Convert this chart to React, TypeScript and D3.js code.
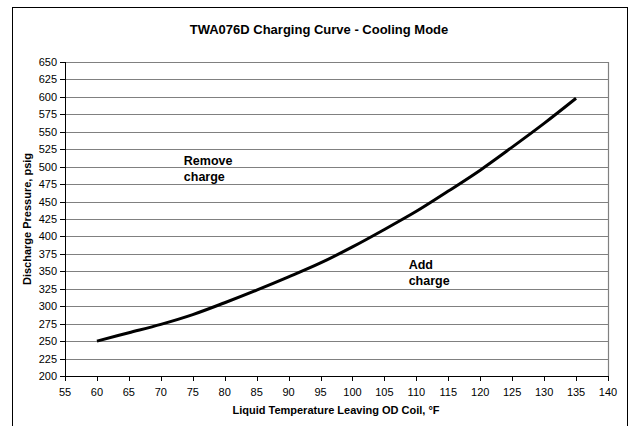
import React from "react";
import * as d3 from "d3";

const temps = [60, 65, 70, 75, 80, 85, 90, 95, 100, 105, 110, 115, 120, 125, 130, 135];
const pressures = [250, 262, 274, 288, 305, 323, 342, 362, 385, 410, 436, 465, 495, 528, 562, 598];
const xTicks = d3.range(55, 141, 5);
const yTicks = d3.range(200, 651, 25);
const title = "TWA076D Charging Curve - Cooling Mode";
const xLabel = "Liquid Temperature Leaving OD Coil, °F";
const yLabel = "Discharge Pressure, psig";
const notes = [
  { x: 73.6, y: 502, lines: ["Remove", "charge"] },
  { x: 108.8, y: 353, lines: ["Add", "charge"] },
];

export default function App() {
  const W = 633, H = 426;
  const L = 65, R = 608, T = 62, B = 376;
  const x = d3.scaleLinear().domain([55, 140]).range([L, R]);
  const y = d3.scaleLinear().domain([200, 650]).range([B, T]);
  const line = d3
    .line<number>()
    .x((_, i) => x(temps[i]))
    .y((d) => y(d))
    .curve(d3.curveMonotoneX);
  const font = "Arial, 'Liberation Sans', sans-serif";
  return (
    <svg
      width={W}
      height={H}
      style={{ position: "absolute", left: 0, top: 0, background: "#fff" }}
      fontFamily={font}
    >
      <rect x={12.5} y={7.5} width={615} height={430} fill="#fff" stroke="#000" strokeWidth={1} />
      <text x={319} y={34} textAnchor="middle" fontSize={13} fontWeight="bold">
        {title}
      </text>
      {yTicks.map((t) => (
        <line key={"g" + t} x1={L} x2={R} y1={Math.round(y(t)) + 0.5} y2={Math.round(y(t)) + 0.5} stroke="#808080" strokeWidth={1.2} />
      ))}
      <line x1={R + 0.5} x2={R + 0.5} y1={T} y2={B} stroke="#808080" strokeWidth={1.2} />
      <line x1={L + 0.5} x2={L + 0.5} y1={T} y2={B + 0.5} stroke="#000" />
      <line x1={L} x2={R} y1={B + 0.5} y2={B + 0.5} stroke="#000" />
      {yTicks.map((t) => (
        <g key={"y" + t}>
          <line x1={L - 5} x2={L} y1={Math.round(y(t)) + 0.5} y2={Math.round(y(t)) + 0.5} stroke="#000" />
          <text x={57} y={y(t) + 4} textAnchor="end" fontSize={11}>
            {t}
          </text>
        </g>
      ))}
      {xTicks.map((t) => (
        <g key={"x" + t}>
          <line x1={Math.round(x(t)) + 0.5} x2={Math.round(x(t)) + 0.5} y1={B} y2={B + 5} stroke="#000" />
          <text x={x(t)} y={396} textAnchor="middle" fontSize={11}>
            {t}
          </text>
        </g>
      ))}
      <path d={line(pressures) || ""} fill="none" stroke="#000" strokeWidth={3} />
      {notes.map((n, i) => (
        <text key={i} x={x(n.x)} y={y(n.y)} fontSize={12.5} fontWeight="bold">
          {n.lines.map((s, j) => (
            <tspan key={j} x={x(n.x)} dy={j === 0 ? 0 : 15.5}>
              {s}
            </tspan>
          ))}
        </text>
      ))}
      <text x={336} y={414} textAnchor="middle" fontSize={11} fontWeight="bold">
        {xLabel}
      </text>
      <text
        transform={`translate(31,${(T + B) / 2}) rotate(-90)`}
        textAnchor="middle"
        fontSize={11}
        fontWeight="bold"
      >
        {yLabel}
      </text>
    </svg>
  );
}
